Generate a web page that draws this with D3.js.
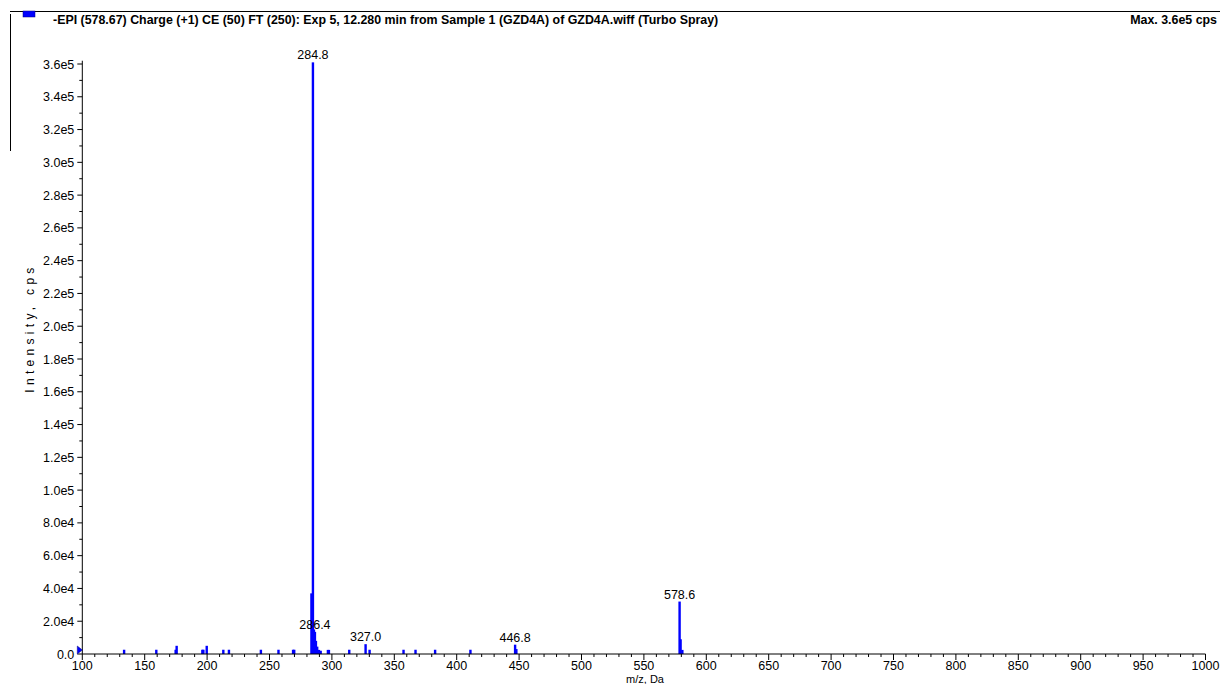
<!DOCTYPE html>
<html><head><meta charset="utf-8">
<script src="https://cdn.jsdelivr.net/npm/d3@7"></script>
<style>
body{margin:0;background:#fff;}
text{font-family:"Liberation Sans",Arial,sans-serif;fill:#000;}
</style></head>
<body>
<svg id="c" width="1220" height="684"></svg>
<script>
const titleText = "-EPI (578.67) Charge (+1) CE (50) FT (250): Exp 5, 12.280 min from Sample 1 (GZD4A) of GZD4A.wiff (Turbo Spray)";
const maxText = "Max. 3.6e5 cps";
const xTicks = [100,150,200,250,300,350,400,450,500,550,600,650,700,750,800,850,900,950,1000];
const yTicks = [0,20000,40000,60000,80000,100000,120000,140000,160000,180000,200000,220000,240000,260000,280000,300000,320000,340000,360000];
const yTickLabels = ["0.0","2.0e4","4.0e4","6.0e4","8.0e4","1.0e5","1.2e5","1.4e5","1.6e5","1.8e5","2.0e5","2.2e5","2.4e5","2.6e5","2.8e5","3.0e5","3.2e5","3.4e5","3.6e5"];
const peakMz = [133.5,159.3,174.8,175.6,196.2,197.0,199.7,213.0,217.5,243.1,257.2,268.9,269.8,
  283.6,284.8,285.6,286.4,287.2,288.2,289.6,291.0,296.8,297.6,313.9,327.0,330.2,357.4,367.0,382.7,411.0,
  446.8,447.8,578.6,579.4,580.8];
const peakInt = [2600,2600,2600,5000,2600,2600,5000,2600,2600,2600,2600,2600,2600,
  37000,361000,15000,13500,8000,4500,2500,2000,2500,2500,2600,6000,2600,2600,2600,2600,2600,
  5700,3000,32000,9000,2500];
const labelMz = [284.8,286.4,327.0,446.8,578.6];
const labelText = ["284.8","286.4","327.0","446.8","578.6"];

const svg = d3.select("#c");
const x = d3.scaleLinear().domain([100,1000]).range([82.3,1205.5]);
const y = d3.scaleLinear().domain([0,360000]).range([654,64]);

// frame lines
svg.append("line").attr("x1",10).attr("x2",1220).attr("y1",11.5).attr("y2",11.5).attr("stroke","#000").attr("stroke-width",1);
svg.append("line").attr("x1",10.5).attr("x2",10.5).attr("y1",14).attr("y2",151).attr("stroke","#000").attr("stroke-width",1);
svg.append("rect").attr("x",23).attr("y",11).attr("width",12).attr("height",6).attr("fill","#0000ff").attr("stroke","#000080").attr("stroke-width",0.5);
svg.append("text").attr("x",53).attr("y",24).attr("font-size",12.4).attr("font-weight","bold").text(titleText);
svg.append("text").attr("x",1217).attr("y",24).attr("font-size",12.4).attr("font-weight","bold").attr("text-anchor","end").text(maxText);

// peaks
svg.append("g").selectAll("rect").data(peakMz).join("rect")
  .attr("x",(d)=>x(d)-1.2).attr("width",2.4)
  .attr("y",(d,i)=>y(peakInt[i])).attr("height",(d,i)=>y(0)-y(peakInt[i]))
  .attr("fill","#0000ff");

// x axis
const xMinor = d3.range(100,1001,10);
const gx = svg.append("g").attr("transform",`translate(0,${y(0)})`);
gx.append("line").attr("x1",x(100)).attr("x2",x(1000)).attr("stroke","#000");
gx.selectAll("line.mn").data(xMinor).join("line").attr("class","mn")
  .attr("x1",d=>x(d)).attr("x2",d=>x(d)).attr("y1",0).attr("y2",d=>d%50===0?6:3).attr("stroke","#000");
gx.selectAll("text").data(xTicks).join("text")
  .attr("x",d=>x(d)).attr("y",16).attr("text-anchor","middle").attr("font-size",12.5).text(d=>d);
svg.append("text").attr("x",645).attr("y",682.5).attr("text-anchor","middle").attr("font-size",11).text("m/z, Da");

// y axis
const yMinor = d3.range(0,360001,10000);
const gy = svg.append("g").attr("transform",`translate(${x(100)},0)`);
gy.append("line").attr("y1",y(0)).attr("y2",y(362000)).attr("stroke","#000");
gy.selectAll("line.mn").data(yMinor).join("line").attr("class","mn")
  .attr("y1",d=>y(d)).attr("y2",d=>y(d)).attr("x1",d=>d%20000===0?-5:-3).attr("x2",0).attr("stroke","#000");
gy.selectAll("text").data(yTicks).join("text")
  .attr("x",-8).attr("y",d=>y(d)+4.5).attr("text-anchor","end").attr("font-size",12.5).text((d,i)=>yTickLabels[i]);
svg.append("text").attr("transform","translate(34,328) rotate(-90)").attr("text-anchor","middle")
  .attr("font-size",12).attr("letter-spacing","4.3px").text("Intensity, cps");

// start marker
svg.append("path").attr("d",`M${x(100)-5},${y(0)-8}L${x(100)},${y(0)-4}L${x(100)-5},${y(0)}Z`).attr("fill","#0000ff").attr("stroke","#000080").attr("stroke-width",0.5);

// peak labels
svg.append("g").selectAll("text").data(labelMz).join("text")
  .attr("x",d=>x(d)).attr("y",d=>{const i=peakMz.indexOf(d);return y(peakInt[i])-3;})
  .attr("text-anchor","middle").attr("font-size",12.5).text((d,i)=>labelText[i]);
</script>
</body></html>
